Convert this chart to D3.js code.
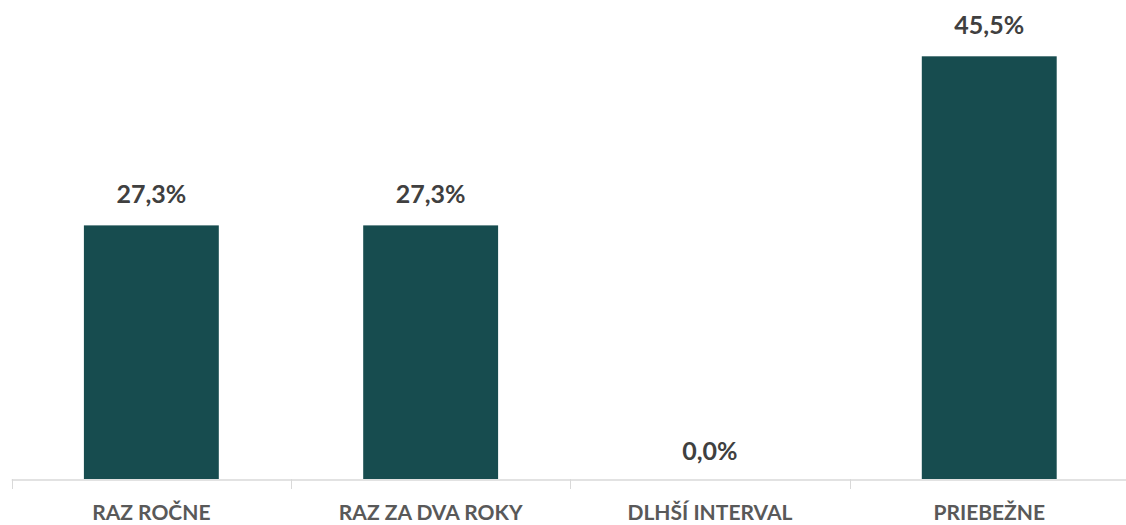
<!DOCTYPE html>
<html>
<head>
<meta charset="utf-8">
<script src="https://cdn.jsdelivr.net/npm/d3@7"></script>
<style>
  body { margin: 0; background: #fff; }
  .valueLabel { font-family: Lato, "Open Sans", sans-serif; font-weight: 700; fill: #404040; }
  .catLabel { font-family: Lato, "Open Sans", sans-serif; font-weight: 700; fill: #595959; }
</style>
</head>
<body>
<div id="chart"></div>
<script>
const categories = ['RAZ ROČNE', 'RAZ ZA DVA ROKY', 'DLHŠÍ INTERVAL', 'PRIEBEŽNE'];
const values = [27.3, 27.3, 0.0, 45.5];
const valueLabels = ['27,3%', '27,3%', '0,0%', '45,5%'];

const width = 1126;
const height = 525;
const baseline = 479;
const axisLeft = 11.7;
const step = 279.3;

const svg = d3.select('#chart').append('svg')
  .attr('width', width)
  .attr('height', height);

const x = d3.scaleBand()
  .domain(categories)
  .range([axisLeft, axisLeft + step * categories.length])
  .paddingInner(0.517)
  .paddingOuter(0.2585);

const y = d3.scaleLinear()
  .domain([0, 50])
  .range([baseline, 14.5]);

// bars
svg.selectAll('.bar')
  .data(values)
  .enter()
  .append('rect')
  .attr('class', 'bar')
  .attr('x', (d, i) => x(categories[i]))
  .attr('y', d => y(d))
  .attr('width', x.bandwidth())
  .attr('height', d => baseline - y(d))
  .attr('fill', '#174c4f');

// value labels
svg.selectAll('.valueLabel')
  .data(values)
  .enter()
  .append('text')
  .attr('class', 'valueLabel')
  .attr('x', (d, i) => x(categories[i]) + x.bandwidth() / 2)
  .attr('y', d => y(d) - (d === 0 ? 19 : 22.5))
  .attr('text-anchor', 'middle')
  .style('font-size', '25px')
  .text((d, i) => valueLabels[i]);

// category axis
const tickXs = d3.range(categories.length + 1).map(i => axisLeft + i * x.step());
svg.append('line')
  .attr('x1', axisLeft)
  .attr('x2', width)
  .attr('y1', baseline + 1)
  .attr('y2', baseline + 1)
  .attr('stroke', '#d9d9d9')
  .attr('stroke-width', 1.5);
svg.selectAll('.tick')
  .data(tickXs)
  .enter()
  .append('line')
  .attr('class', 'tick')
  .attr('x1', d => Math.round(d) + 0.5)
  .attr('x2', d => Math.round(d) + 0.5)
  .attr('y1', baseline)
  .attr('y2', baseline + 10)
  .attr('stroke', '#d9d9d9');

svg.selectAll('.catLabel')
  .data(categories)
  .enter()
  .append('text')
  .attr('class', 'catLabel')
  .attr('x', d => x(d) + x.bandwidth() / 2)
  .attr('y', 520)
  .attr('text-anchor', 'middle')
  .style('font-size', '21px')
  .text(d => d);
</script>
</body>
</html>
